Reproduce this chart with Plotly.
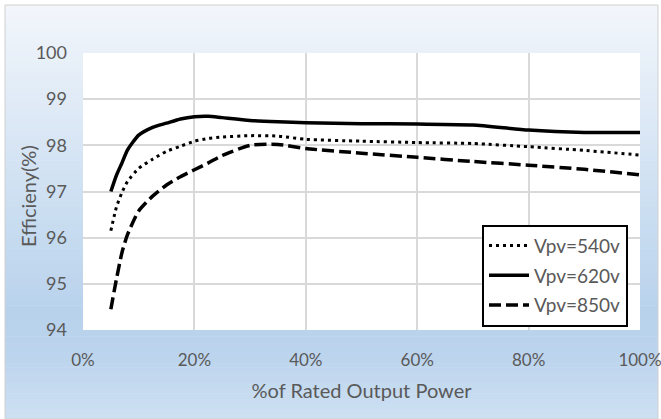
import plotly.graph_objects as go

# % of rated output power
load_pct = [5, 6, 7, 8, 10, 12.5, 15, 17.5, 20, 22.5, 25, 30, 35, 40, 50, 60, 70, 80, 90, 100]

eff_540 = [96.15, 96.66, 96.98, 97.22, 97.50, 97.70, 97.87, 97.98, 98.09, 98.15,
           98.18, 98.21, 98.20, 98.13, 98.09, 98.06, 98.04, 97.97, 97.89, 97.79]
eff_620 = [97.00, 97.35, 97.62, 97.90, 98.22, 98.39, 98.48, 98.57, 98.62, 98.63,
           98.60, 98.54, 98.51, 98.49, 98.47, 98.46, 98.44, 98.33, 98.28, 98.28]
eff_850 = [94.45, 95.10, 95.68, 96.07, 96.58, 96.90, 97.14, 97.32, 97.47, 97.62,
           97.78, 98.00, 98.02, 97.93, 97.83, 97.74, 97.65, 97.57, 97.48, 97.36]

series_names = ["Vpv=540v", "Vpv=620v", "Vpv=850v"]
x_ticks = [0, 20, 40, 60, 80, 100]
x_labels = ["0%", "20%", "40%", "60%", "80%", "100%"]
y_ticks = [94, 95, 96, 97, 98, 99, 100]

font = "Lato, 'Open Sans', sans-serif"
grey = "#595959"

fig = go.Figure()
fig.add_trace(go.Scatter(x=load_pct, y=eff_540, name=series_names[0], mode="lines", legendgroup="a",
                         line=dict(color="black", width=3, dash="3px,4px", shape="spline", smoothing=0.6)))
fig.add_trace(go.Scatter(x=load_pct, y=eff_620, name=series_names[1], mode="lines", legendgroup="b",
                         line=dict(color="black", width=3.5, shape="spline", smoothing=0.6)))
fig.add_trace(go.Scatter(x=load_pct, y=eff_850, name=series_names[2], mode="lines", legendgroup="c",
                         line=dict(color="black", width=3.5, dash="12px,5px", shape="spline", smoothing=0.6)))

# Excel-style light gradient for the chart area
stops = [(0.0, (242, 246, 251)), (0.74, (184, 210, 236)), (0.85, (188, 212, 237)), (1.0, (206, 224, 242))]


def grad_color(t):
    for (t0, c0), (t1, c1) in zip(stops[:-1], stops[1:]):
        if t0 <= t <= t1:
            f = (t - t0) / (t1 - t0) if t1 > t0 else 0
            return "rgb(%d,%d,%d)" % tuple(round(a + (b - a) * f) for a, b in zip(c0, c1))
    return "rgb(%d,%d,%d)" % stops[-1][1]


W, H = 661, 419
ml, mr, mt, mb = 83, 21, 53, 89
pw, ph = W - ml - mr, H - mt - mb
left, right, top, bottom = 5, 658, 5, 419
n = 80
shapes = []
for i in range(n):
    ya = top + (bottom - top) * i / n
    yb = top + (bottom - top) * (i + 1) / n + 0.6
    shapes.append(dict(type="rect", xref="paper", yref="paper", layer="below",
                       x0=(left - ml) / pw, x1=(right - ml) / pw,
                       y0=(H - mb - yb) / ph, y1=(H - mb - ya) / ph,
                       line=dict(width=0), fillcolor=grad_color((i + 0.5) / n)))
shapes.append(dict(type="rect", xref="paper", yref="paper", layer="below",
                   x0=(left - ml) / pw, x1=(right - ml) / pw,
                   y0=(H - mb - bottom) / ph, y1=(H - mb - top) / ph,
                   line=dict(width=1, color="#d0d0d0"), fillcolor="rgba(0,0,0,0)"))
shapes.append(dict(type="rect", xref="paper", yref="paper", layer="below",
                   x0=0, x1=1, y0=0, y1=1, line=dict(width=0), fillcolor="white"))

fig.update_layout(
    width=W, height=H,
    margin=dict(l=ml, r=mr, t=mt, b=mb, autoexpand=False),
    paper_bgcolor="white",
    plot_bgcolor="white",
    font=dict(family=font, size=18, color=grey),
    shapes=shapes,
    showlegend=True,
    legend=dict(x=(482 - ml) / pw, y=0.012, xanchor="left", yanchor="bottom",
                bgcolor="white", bordercolor="black", borderwidth=2,
                font=dict(size=19, color=grey), tracegroupgap=2, itemwidth=40),
    xaxis=dict(range=[0, 100], tickmode="array", tickvals=x_ticks, ticktext=x_labels,
               tickfont=dict(size=17), showgrid=True, gridcolor="#d9d9d9", gridwidth=1.5,
               zeroline=False, showline=False,
               ticklabelstandoff=18, ticklabeloverflow="allow", automargin=False,
               title=dict(text="%of Rated Output Power", standoff=14, font=dict(size=20, color=grey))),
    yaxis=dict(range=[94, 100], tickvals=y_ticks, showgrid=True,
               gridcolor="#d9d9d9", gridwidth=1.5, zeroline=False, showline=False,
               ticklabelstandoff=15, automargin=False),
    annotations=[dict(text="Efficieny(%)", textangle=-90, xref="paper", yref="paper",
                      x=(28 - ml) / pw, y=(H - mb - 196) / ph, xanchor="center", yanchor="middle",
                      showarrow=False, font=dict(size=20, color=grey))],
)

fig.write_html("out.html", config={"displayModeBar": False},
               post_script="document.body.style.margin='0';")
